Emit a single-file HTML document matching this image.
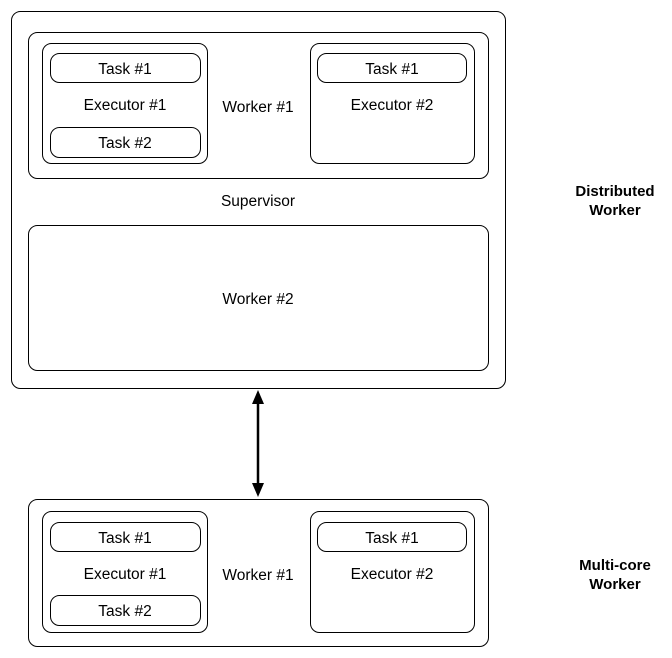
<!DOCTYPE html>
<html><head><style>body{margin:0;background:#fff}svg{display:block}</style></head><body>
<svg width="672" height="658" xmlns="http://www.w3.org/2000/svg" font-family="Liberation Sans, sans-serif" font-size="15.5" fill="none" stroke="#000" stroke-width="1">
<rect x="11.5" y="11.5" width="494" height="377" rx="9"/>
<rect x="28.5" y="32.5" width="460" height="146" rx="9"/>
<rect x="42.5" y="43.5" width="165" height="120" rx="9"/>
<rect x="50.5" y="53.5" width="150" height="29" rx="9"/>
<rect x="50.5" y="127.5" width="150" height="30" rx="9"/>
<rect x="310.5" y="43.5" width="164" height="120" rx="9"/>
<rect x="317.5" y="53.5" width="149" height="29" rx="9"/>
<rect x="28.5" y="225.5" width="460" height="145" rx="9"/>
<rect x="28.5" y="499.5" width="460" height="147" rx="9"/>
<rect x="42.5" y="511.5" width="165" height="121" rx="9"/>
<rect x="50.5" y="522.5" width="150" height="29" rx="9"/>
<rect x="50.5" y="595.5" width="150" height="30" rx="9"/>
<rect x="310.5" y="511.5" width="164" height="121" rx="9"/>
<rect x="317.5" y="522.5" width="149" height="29" rx="9"/>
<line x1="258" y1="400" x2="258" y2="486" stroke-width="2.5"/>
<polygon points="258,390 252,404 264,404" fill="#000" stroke="none"/>
<polygon points="258,497 252,483 264,483" fill="#000" stroke="none"/>
<g fill="#000" stroke="none" text-anchor="middle">
<text x="125" y="74">Task #1</text>
<text x="125" y="110">Executor #1</text>
<text x="125" y="148">Task #2</text>
<text x="258" y="112">Worker #1</text>
<text x="392" y="74">Task #1</text>
<text x="392" y="110">Executor #2</text>
<text x="258" y="206">Supervisor</text>
<text x="258" y="304">Worker #2</text>
<text x="125" y="543">Task #1</text>
<text x="125" y="579">Executor #1</text>
<text x="125" y="616">Task #2</text>
<text x="258" y="580">Worker #1</text>
<text x="392" y="543">Task #1</text>
<text x="392" y="579">Executor #2</text>
<g font-weight="bold" font-size="15"><text x="615" y="196">Distributed</text><text x="615" y="215">Worker</text>
<text x="615" y="570">Multi-core</text><text x="615" y="589">Worker</text></g>
</g>
</svg>
</body></html>
